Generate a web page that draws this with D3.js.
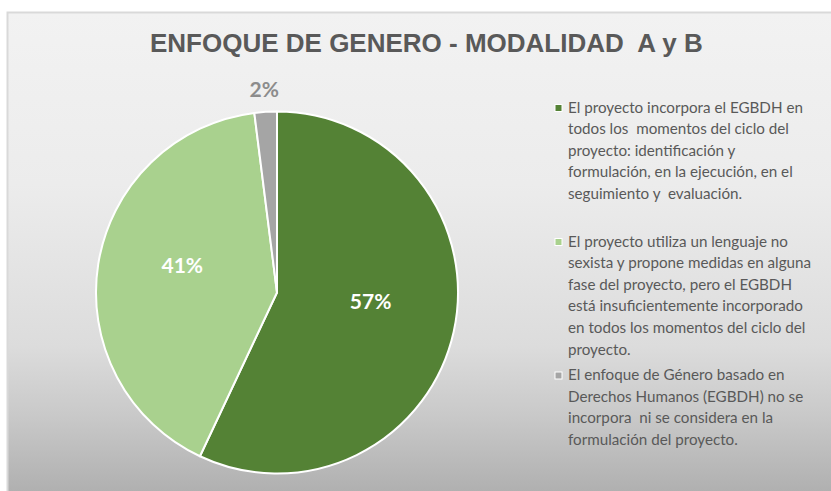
<!DOCTYPE html>
<html>
<head>
<meta charset="utf-8">
<script src="https://cdn.jsdelivr.net/npm/d3@7"></script>
<style>
  body { margin: 0; background: #fff; }
</style>
</head>
<body>
<div id="chart"></div>
<script>
// data (percent of projects)
var categories = ["incorpora", "insuficiente", "no_incorpora"]
var values = [57, 41, 2]
var colors = ["#548235", "#a9d18e", "#a5a5a5"]
var legendLines = [
  ["El proyecto incorpora el EGBDH en", "todos los  momentos del ciclo del", "proyecto: identificación y", "formulación, en la ejecución, en el", "seguimiento y  evaluación."],
  ["El proyecto utiliza un lenguaje no", "sexista y propone medidas en alguna", "fase del proyecto, pero el EGBDH", "está insuficientemente incorporado", "en todos los momentos del ciclo del", "proyecto."],
  ["El enfoque de Género basado en", "Derechos Humanos (EGBDH) no se", "incorpora  ni se considera en la", "formulación del proyecto."]
]
var title = "ENFOQUE DE GENERO - MODALIDAD  A y B"

var width = 831, height = 491

var svg = d3.select("#chart")
  .append("svg")
    .attr("width", width)
    .attr("height", height)

// background gradient of the chart area
var grad = svg.append("defs").append("linearGradient")
  .attr("id", "bg")
  .attr("x1", 0).attr("y1", 0).attr("x2", 0).attr("y2", 1)
grad.selectAll("stop")
  .data([[0, "#f2f2f2"], [0.35, "#ececec"], [0.68, "#dcdcdc"], [0.82, "#c9c9c9"], [1, "#acacac"]])
  .enter().append("stop")
    .attr("offset", function(d){ return d[0] })
    .attr("stop-color", function(d){ return d[1] })

svg.append("rect")
  .attr("x", 7.5).attr("y", 12.5)
  .attr("width", width)
  .attr("height", height)
  .attr("fill", "url(#bg)")
  .attr("stroke", "#d9d9d9")
  .attr("stroke-width", 2)

svg.append("text")
  .attr("x", 150)
  .attr("y", 52)
  .style("font-family", "'Liberation Sans', Arial, sans-serif")
  .style("font-weight", "bold")
  .style("font-size", "26px")
  .style("fill", "#595959")
  .style("white-space", "pre")
  .text(title)

// pie
var cx = 277, cy = 292.5, r = 181
var total = d3.sum(values)

var pie = d3.pie().sort(null).value(function(d){ return d })
var arcs = pie(values)
var arc = d3.arc().innerRadius(0).outerRadius(r)
var labelArc = d3.arc().innerRadius(r * 0.53).outerRadius(r * 0.53)
var outArc = d3.arc().innerRadius(r + 22).outerRadius(r + 22)

var g = svg.append("g").attr("transform", "translate(" + cx + "," + cy + ")")

g.selectAll("path")
  .data(arcs)
  .enter().append("path")
    .attr("d", arc)
    .attr("fill", function(d, i){ return colors[i] })
    .attr("stroke", "#fff")
    .attr("stroke-width", 2)
    .attr("stroke-linejoin", "round")

function small(d) { return (d.endAngle - d.startAngle) < 0.3 }

g.selectAll(".lbl")
  .data(arcs)
  .enter().append("text")
    .attr("class", "lbl")
    .attr("transform", function(d) {
      var p = small(d) ? outArc.centroid(d) : labelArc.centroid(d)
      return "translate(" + p[0] + "," + p[1] + ")"
    })
    .attr("text-anchor", "middle")
    .attr("dy", function(d){ return small(d) ? "0.36em" : "-0.2em" })
    .style("font-family", "Lato, 'Open Sans', sans-serif")
    .style("font-weight", "bold")
    .style("font-size", "21px")
    .style("fill", function(d) { return small(d) ? "#8c8c8c" : "#fff" })
    .text(function(d){ return Math.round(d.value / total * 100) + "%" })

// legend
var legendTop = [112.5, 246.5, 380]
var lineH = 21.6
var legend = svg.append("g")

legendLines.forEach(function(lines, i) {
  legend.append("rect")
    .attr("x", 555).attr("y", legendTop[i] - 8)
    .attr("width", 7).attr("height", 7)
    .attr("fill", colors[i])
    .attr("stroke", "#fff")
    .attr("stroke-width", 1)
  legend.selectAll(".l" + i)
    .data(lines)
    .enter().append("text")
      .attr("class", "l" + i)
      .attr("x", 568)
      .attr("y", function(d, j){ return legendTop[i] + j * lineH })
      .style("font-family", "Lato, sans-serif")
      .style("font-size", "15.2px")
      .style("fill", "#595959")
      .style("white-space", "pre")
      .text(function(d){ return d })
})
</script>
</body>
</html>
